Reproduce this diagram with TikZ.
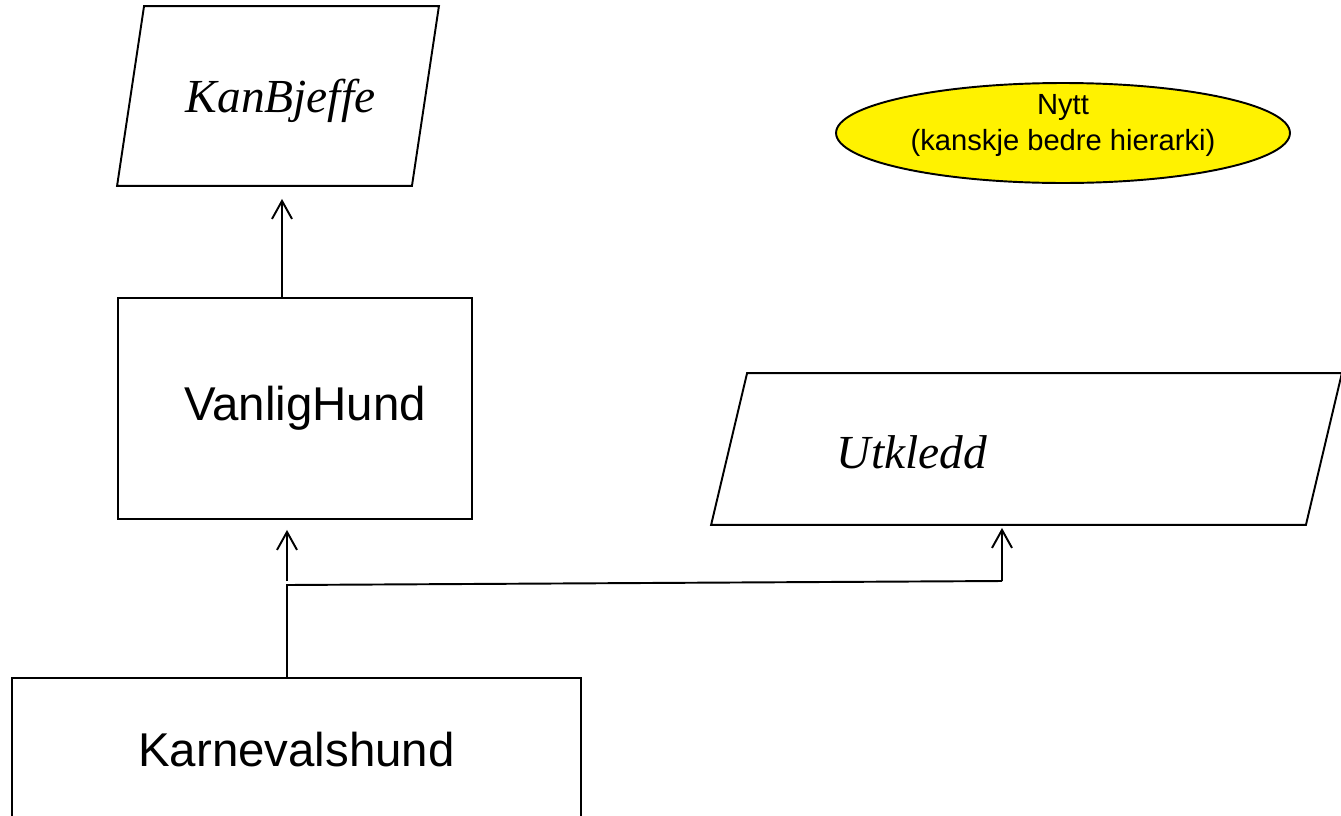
\documentclass[tikz,border=0pt]{standalone}
\usepackage{fontspec}
\setmainfont{Liberation Sans}
\newfontfamily\serifit{Liberation Serif}
\usetikzlibrary{arrows.meta,shapes.geometric}

\begin{document}
\begin{tikzpicture}[x=0.02cm,y=-0.02cm,line width=1.1pt,
    arr/.style={-{Straight Barb[length=3.6mm,width=4mm,line width=1.1pt]}},
    class node/.style={rectangle,draw,font=\fontsize{27}{32}\selectfont},
    iface node/.style={rectangle,inner sep=0pt},
    iface text/.style={font=\serifit\itshape\fontsize{27}{32}\selectfont},
    note node/.style={ellipse,draw,fill=yellow,inner sep=0pt},
    note text/.style={align=center,font=\fontsize{16.6}{20.5}\selectfont}]

  \useasboundingbox (0,0) rectangle (1341,815);

  \node[iface node,minimum width=5.86cm,minimum height=3.56cm,
        label={[iface text,xshift=0.05cm,yshift=-0.1cm]center:KanBjeffe}] (kb) at (278,96) {};
  \node[class node,minimum width=7.08cm,minimum height=4.42cm] (vh) at (295,408.5) {\hspace{0.4cm}VanligHund};
  \node[iface node,minimum width=11.86cm,minimum height=3cm,
        label={[iface text,xshift=-2.29cm,yshift=-0.06cm]center:Utkledd}] (ut) at (1026.5,449) {};
  \node[class node,minimum width=11.38cm,minimum height=2.88cm] (kh) at (296.5,750) {Karnevalshund};
  \node[note node,minimum width=9.08cm,minimum height=2cm,
        label={[note text,yshift=0.16cm]center:Nytt\\(kanskje bedre hierarki)}] (ny) at (1063,133) {};

  % slanted outlines of the interfaces
  \draw ([xshift=0.27cm]kb.north west) -- ([xshift=0.27cm]kb.north east)
     -- ([xshift=-0.27cm]kb.south east) -- ([xshift=-0.27cm]kb.south west) -- cycle;
  \draw ([xshift=0.36cm]ut.north west) -- ([xshift=0.36cm]ut.north east)
     -- ([xshift=-0.36cm]ut.south east) -- ([xshift=-0.36cm]ut.south west) -- cycle;

  \coordinate (split) at (287,585);
  \coordinate (turn) at (1002,581);

  \draw[arr,shorten >=0.26cm] ([xshift=-0.26cm]vh.north) -- ([xshift=-0.26cm]vh.north |- kb.south);
  \draw (kh.north -| split) -- (split) -- (turn);
  \draw[arr,shorten >=0.2cm] ([yshift=0.08cm]split) -- (split |- vh.south);
  \draw[arr,shorten >=0.06cm] (turn) -- (turn |- ut.south);
\end{tikzpicture}
\end{document}
